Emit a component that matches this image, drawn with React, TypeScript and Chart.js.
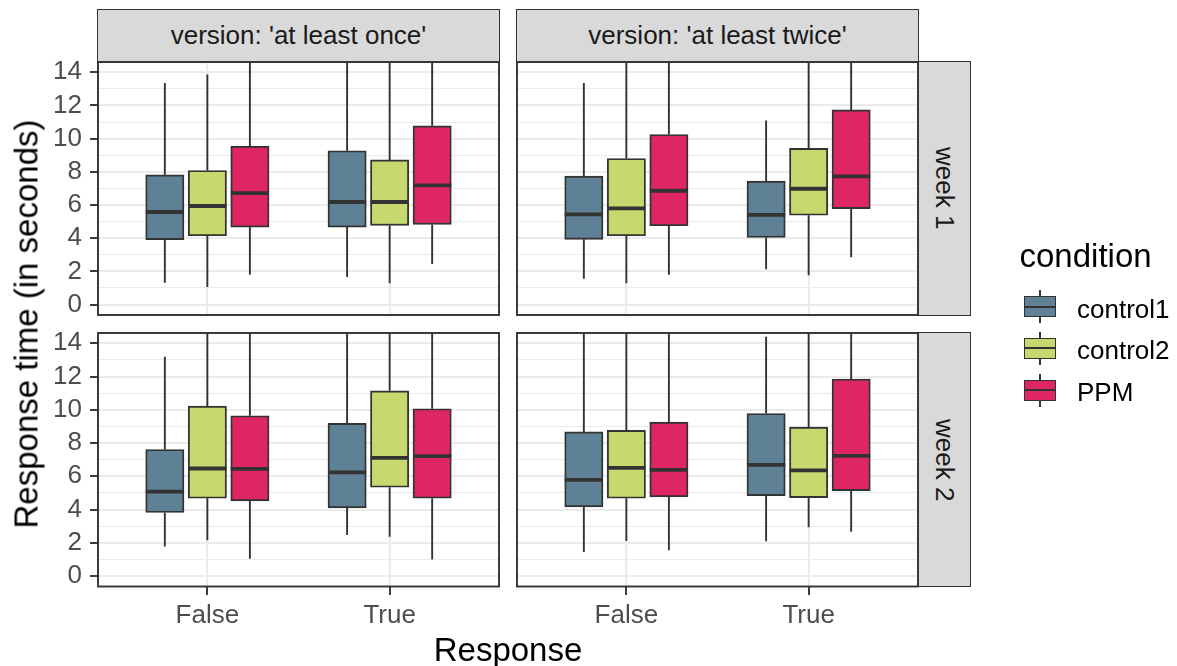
import React, { useEffect, useRef } from 'react';
import { Chart, registerables } from 'chart.js';

Chart.register(...registerables);

// ---------------- data ----------------
const CATEGORIES = ['False', 'True'];
const CONDITIONS = ['control1', 'control2', 'PPM'];
const CONDITION_COLORS = ['#5F8195', '#C6D96E', '#DE2762'];
const VERSIONS = ["version: 'at least once'", "version: 'at least twice'"];
const WEEKS = ['week 1', 'week 2'];
const Y_MAJOR_TICKS = [0, 2, 4, 6, 8, 10, 12, 14];
const Y_MINOR_TICKS = [1, 3, 5, 7, 9, 11, 13];

// each entry: [min, q1, median, q3, max] for False, True
const W1_ONCE_CONTROL1 = [[1.32, 3.91, 5.58, 7.82, 13.36], [1.66, 4.67, 6.18, 9.27, 16.0]];
const W1_ONCE_CONTROL2 = [[1.06, 4.15, 5.94, 8.08, 13.86], [1.28, 4.77, 6.18, 8.72, 16.0]];
const W1_ONCE_PPM = [[1.8, 4.67, 6.72, 9.55, 16.5], [2.45, 4.83, 7.18, 10.77, 17.0]];
const W1_TWICE_CONTROL1 = [[1.56, 3.93, 5.44, 7.74, 13.36], [2.13, 4.05, 5.4, 7.44, 11.09]];
const W1_TWICE_CONTROL2 = [[1.28, 4.15, 5.8, 8.8, 16.0], [1.76, 5.38, 6.98, 9.41, 16.0]];
const W1_TWICE_PPM = [[1.8, 4.75, 6.86, 10.25, 16.5], [2.85, 5.78, 7.72, 11.73, 17.0]];
const W2_ONCE_CONTROL1 = [[1.77, 3.82, 5.08, 7.61, 13.19], [2.47, 4.1, 6.24, 9.18, 16.0]];
const W2_ONCE_CONTROL2 = [[2.15, 4.68, 6.47, 10.22, 16.5], [2.37, 5.34, 7.11, 11.14, 17.0]];
const W2_ONCE_PPM = [[1.04, 4.52, 6.45, 9.64, 16.5], [1.0, 4.68, 7.21, 10.06, 16.5]];
const W2_TWICE_CONTROL1 = [[1.45, 4.16, 5.78, 8.67, 16.0], [2.09, 4.84, 6.69, 9.78, 14.4]];
const W2_TWICE_CONTROL2 = [[2.11, 4.68, 6.51, 8.76, 16.0], [2.93, 4.72, 6.35, 8.96, 16.0]];
const W2_TWICE_PPM = [[1.55, 4.76, 6.39, 9.26, 16.5], [2.67, 5.14, 7.23, 11.85, 17.0]];

const PANEL_SERIES = [
  [[W1_ONCE_CONTROL1, W1_ONCE_CONTROL2, W1_ONCE_PPM], [W1_TWICE_CONTROL1, W1_TWICE_CONTROL2, W1_TWICE_PPM]],
  [[W2_ONCE_CONTROL1, W2_ONCE_CONTROL2, W2_ONCE_PPM], [W2_TWICE_CONTROL1, W2_TWICE_CONTROL2, W2_TWICE_PPM]],
];

// ---------------- layout ----------------
const W = 1177;
const H = 666;
const COL_X = [[98, 499], [517, 918]];
const ROW_Y = [[62, 315], [333, 586.5]];
const STRIP_TOP = 10;
const STRIP_RIGHT = 970;
const X_MIN = 0.4;
const X_MAX = 2.6;
const Y_MIN = -0.63;
const Y_MAX = 14.62;
const DODGE = [-0.2333, 0, 0.2333];
const BOX_WIDTH = 0.21;
const X_AXIS_H = 50;
const FONT = "'Liberation Sans', Arial, Helvetica, sans-serif";
const DARK = '#333333';
const GRID = '#EBEBEB';
const LINE_W = 1.9;

const boxPlugin = {
  id: 'boxWhiskers',
  afterDatasetsDraw(chart: any) {
    const { ctx, chartArea, scales } = chart;
    const y = scales.y;
    ctx.save();
    ctx.beginPath();
    ctx.rect(chartArea.left, chartArea.top, chartArea.right - chartArea.left, chartArea.bottom - chartArea.top);
    ctx.clip();
    chart.data.datasets.forEach((ds: any, di: number) => {
      const meta = chart.getDatasetMeta(di);
      ds.stats.forEach((s: number[], i: number) => {
        const el = meta.data[i];
        const { x, width } = el.getProps(['x', 'width'], true);
        ctx.strokeStyle = DARK;
        ctx.lineCap = 'butt';
        ctx.lineWidth = LINE_W;
        ctx.beginPath();
        ctx.moveTo(x, y.getPixelForValue(s[3]));
        ctx.lineTo(x, y.getPixelForValue(s[4]));
        ctx.moveTo(x, y.getPixelForValue(s[1]));
        ctx.lineTo(x, y.getPixelForValue(s[0]));
        ctx.stroke();
        const my = y.getPixelForValue(s[2]);
        ctx.lineWidth = 3.8;
        ctx.beginPath();
        ctx.moveTo(x - width / 2, my);
        ctx.lineTo(x + width / 2, my);
        ctx.stroke();
      });
    });
    ctx.restore();
  },
  afterDraw(chart: any) {
    const { ctx, chartArea } = chart;
    ctx.save();
    ctx.strokeStyle = DARK;
    ctx.lineWidth = LINE_W;
    ctx.strokeRect(chartArea.left, chartArea.top, chartArea.right - chartArea.left, chartArea.bottom - chartArea.top);
    ctx.restore();
  },
};

function makeConfig(row: number, col: number): any {
  const [left, right] = COL_X[col];
  const [top, bottom] = ROW_Y[row];
  const showY = col === 0;
  const showX = row === 1;
  const series = PANEL_SERIES[row][col];
  const barPx = (BOX_WIDTH * (right - left)) / (X_MAX - X_MIN);
  const tickFont = { family: FONT, size: 26 };
  const datasets = series.map((stats: number[][], k: number) => ({
    label: CONDITIONS[k],
    data: stats.map((s, i) => ({ x: i + 1 + DODGE[k], y: [s[1], s[3]] })),
    stats,
    backgroundColor: CONDITION_COLORS[k],
    borderColor: DARK,
    borderWidth: LINE_W,
    borderSkipped: false,
    grouped: false,
    barThickness: barPx,
  }));
  return {
    type: 'bar',
    data: { datasets },
    options: {
      responsive: false,
      animation: false,
      events: [],
      layout: {
        padding: {
          left: showY ? 0 : left,
          top,
          right: W - right,
          bottom: showX ? H - bottom - X_AXIS_H : H - bottom,
        },
      },
      plugins: { legend: { display: false }, tooltip: { enabled: false }, title: { display: false } },
      scales: {
        x: {
          type: 'linear',
          min: X_MIN,
          max: X_MAX,
          offset: false,
          afterBuildTicks: (ax: any) => {
            ax.ticks = CATEGORIES.map((_, i) => ({ value: i + 1 }));
          },
          afterFit: (ax: any) => {
            ax.height = showX ? X_AXIS_H : 0;
          },
          ticks: {
            display: showX,
            autoSkip: false,
            maxRotation: 0,
            minRotation: 0,
            padding: 5,
            color: '#4D4D4D',
            font: tickFont,
            callback: (v: number) => CATEGORIES[Math.round(v) - 1],
          },
          grid: {
            offset: false,
            color: GRID,
            lineWidth: 2,
            drawTicks: showX,
            tickLength: 8.5,
            tickColor: DARK,
            tickWidth: LINE_W,
          },
          border: { display: false },
        },
        y: {
          type: 'linear',
          min: Y_MIN,
          max: Y_MAX,
          afterBuildTicks: (ax: any) => {
            ax.ticks = [...Y_MAJOR_TICKS, ...Y_MINOR_TICKS].sort((a, b) => a - b).map((v) => ({ value: v }));
          },
          afterFit: (ax: any) => {
            ax.width = showY ? left : 0;
          },
          ticks: {
            display: showY,
            autoSkip: false,
            padding: 8,
            color: '#4D4D4D',
            font: tickFont,
            callback: (v: number) => (Y_MAJOR_TICKS.includes(v) ? String(v) : ''),
          },
          grid: {
            color: GRID,
            lineWidth: (c: any) => (c.tick && Y_MAJOR_TICKS.includes(c.tick.value) ? 2 : 1.1),
            drawTicks: showY,
            tickLength: 8,
            tickColor: (c: any) => (c.tick && Y_MAJOR_TICKS.includes(c.tick.value) ? DARK : 'rgba(0,0,0,0)'),
            tickWidth: LINE_W,
          },
          border: { display: false },
        },
      },
    },
    plugins: [boxPlugin],
  };
}

const PANELS = [
  [0, 0],
  [0, 1],
  [1, 0],
  [1, 1],
];

const LEGEND_CY = [306.5, 348.3, 390];

export default function App() {
  const canvasRefs = useRef<(HTMLCanvasElement | null)[]>([]);

  useEffect(() => {
    const charts = PANELS.map(([r, c], i) => new Chart(canvasRefs.current[i] as HTMLCanvasElement, makeConfig(r, c)));
    return () => charts.forEach((ch) => ch.destroy());
  }, []);

  const stripBase: React.CSSProperties = {
    position: 'absolute',
    boxSizing: 'border-box',
    border: `${LINE_W}px solid ${DARK}`,
    background: '#D9D9D9',
    color: '#1A1A1A',
    fontFamily: FONT,
    fontSize: 26,
    display: 'flex',
    alignItems: 'center',
    justifyContent: 'center',
    whiteSpace: 'nowrap',
  };
  const half = LINE_W / 2;

  return (
    <div
      style={{
        position: 'fixed',
        left: 0,
        top: 0,
        width: W,
        height: H,
        background: '#FFFFFF',
        overflow: 'hidden',
        fontFamily: FONT,
      }}
    >
      {/* top strips */}
      {VERSIONS.map((v, c) => (
        <div
          key={v}
          style={{
            ...stripBase,
            left: COL_X[c][0] - half,
            top: STRIP_TOP - half,
            width: COL_X[c][1] - COL_X[c][0] + LINE_W,
            height: ROW_Y[0][0] - STRIP_TOP + LINE_W,
          }}
        >
          {v}
        </div>
      ))}
      {/* right strips */}
      {WEEKS.map((w, r) => (
        <div
          key={w}
          style={{
            ...stripBase,
            left: COL_X[1][1] - half,
            top: ROW_Y[r][0] - half,
            width: STRIP_RIGHT - COL_X[1][1] + LINE_W,
            height: ROW_Y[r][1] - ROW_Y[r][0] + LINE_W,
            writingMode: 'vertical-rl',
          }}
        >
          {w}
        </div>
      ))}

      {PANELS.map((_, i) => (
        <canvas
          key={i}
          ref={(el) => {
            canvasRefs.current[i] = el;
          }}
          width={W}
          height={H}
          style={{ position: 'absolute', left: 0, top: 0, width: W, height: H }}
        />
      ))}

      {/* axis titles */}
      <div
        style={{
          position: 'absolute',
          left: 25.5,
          top: (ROW_Y[0][0] + ROW_Y[1][1]) / 2,
          transform: 'translate(-50%, -50%) rotate(-90deg)',
          fontSize: 33,
          lineHeight: 1,
          color: '#000',
          whiteSpace: 'nowrap',
        }}
      >
        Response time (in seconds)
      </div>
      <div
        style={{
          position: 'absolute',
          left: (COL_X[0][0] + COL_X[1][1]) / 2,
          top: 648.7,
          transform: 'translate(-50%, -50%)',
          fontSize: 33,
          lineHeight: 1,
          color: '#000',
          whiteSpace: 'nowrap',
        }}
      >
        Response
      </div>

      {/* legend */}
      <div
        style={{
          position: 'absolute',
          left: 1019.5,
          top: 255,
          transform: 'translateY(-50%)',
          fontSize: 33,
          lineHeight: 1,
          color: '#000',
          whiteSpace: 'nowrap',
        }}
      >
        condition
      </div>
      {CONDITIONS.map((name, k) => {
        const cy = LEGEND_CY[k];
        return (
          <React.Fragment key={name}>
            <div style={{ position: 'absolute', left: 1024, top: cy - 16.5, width: 32, height: 33 }}>
              <div style={{ position: 'absolute', left: 16 - half, top: 0, width: LINE_W, height: 33, background: DARK }} />
              <div
                style={{
                  position: 'absolute',
                  left: 0,
                  top: 6,
                  width: 32,
                  height: 21,
                  boxSizing: 'border-box',
                  border: `${LINE_W}px solid ${DARK}`,
                  background: CONDITION_COLORS[k],
                }}
              />
              <div style={{ position: 'absolute', left: 0, top: 15.5, width: 32, height: 2.2, background: DARK }} />
            </div>
            <div
              style={{
                position: 'absolute',
                left: 1077,
                top: cy + 2,
                transform: 'translateY(-50%)',
                fontSize: 26,
                lineHeight: 1,
                color: '#000',
                whiteSpace: 'nowrap',
              }}
            >
              {name}
            </div>
          </React.Fragment>
        );
      })}
    </div>
  );
}
